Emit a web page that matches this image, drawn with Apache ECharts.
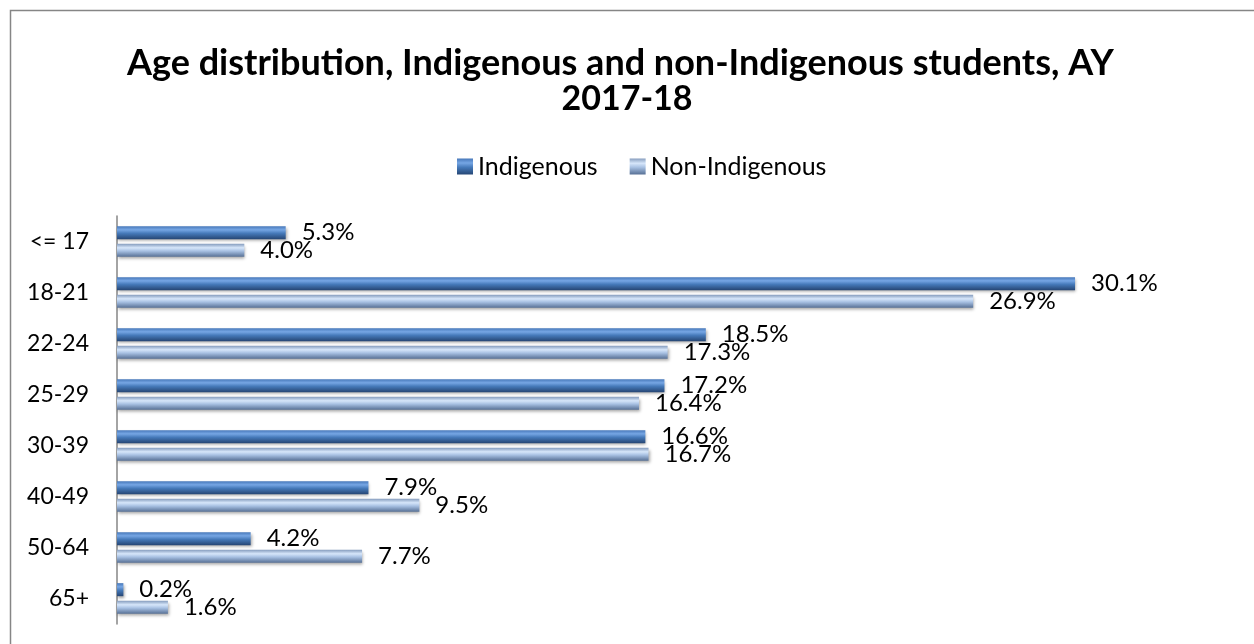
<!DOCTYPE html>
<html>
<head>
<meta charset="utf-8">
<script src="https://cdn.jsdelivr.net/npm/echarts@6/dist/echarts.min.js"></script>
<style>
html,body{margin:0;padding:0;background:#fff;}
#chart{width:1254px;height:644px;}
</style>
</head>
<body>
<div id="chart"></div>
<script>
const categories = ['<= 17', '18-21', '22-24', '25-29', '30-39', '40-49', '50-64', '65+'];
const indigenous = [5.3, 30.1, 18.5, 17.2, 16.6, 7.9, 4.2, 0.2];
const nonIndigenous = [4.0, 26.9, 17.3, 16.4, 16.7, 9.5, 7.7, 1.6];
const seriesNames = ['Indigenous', 'Non-Indigenous'];
const titleLines = ['Age distribution, Indigenous and non-Indigenous students, AY', '2017-18'];

const FONT = 'Lato, "Open Sans", sans-serif';
const chart = echarts.init(document.getElementById('chart'));

const gradInd = new echarts.graphic.LinearGradient(0, 0, 0, 1, [
  {offset: 0, color: '#4677b9'},
  {offset: 0.28, color: '#76a6e4'},
  {offset: 0.55, color: '#467aba'},
  {offset: 1, color: '#264674'}
]);
const gradNon = new echarts.graphic.LinearGradient(0, 0, 0, 1, [
  {offset: 0, color: '#869dbe'},
  {offset: 0.3, color: '#d6e6fa'},
  {offset: 0.55, color: '#a8c1e3'},
  {offset: 1, color: '#566f94'}
]);

const labelCfg = {
  show: true,
  position: 'right',
  distance: 16,
  color: '#000',
  fontFamily: FONT,
  fontSize: 24,
  formatter: p => p.value.toFixed(1) + '%'
};

const titleStyle = {fontFamily: FONT, fontWeight: 'bold', fontSize: 36, color: '#000'};

chart.setOption({
  animation: false,
  backgroundColor: '#fff',
  title: [
    {text: titleLines[0], left: 122, top: 40, textStyle: titleStyle},
    {text: titleLines[1], left: 'center', top: 77, textStyle: Object.assign({}, titleStyle, {fontSize: 34})}
  ],
  legend: {
    data: seriesNames,
    top: 149,
    left: 452,
    icon: 'rect',
    itemWidth: 16,
    itemHeight: 16,
    itemGap: 32,
    textStyle: {fontFamily: FONT, fontSize: 25, color: '#000'}
  },
  graphic: [{
    type: 'rect',
    shape: {x: 10.5, y: 10.5, width: 1300, height: 700},
    style: {fill: 'none', stroke: '#868686', lineWidth: 1.5},
    silent: true
  }],
  grid: {left: 117, right: 23, top: 216, height: 408, containLabel: false},
  xAxis: {
    type: 'value',
    min: 0,
    max: 35,
    show: false,
    splitLine: {show: false}
  },
  yAxis: {
    type: 'category',
    data: categories,
    inverse: true,
    axisLine: {show: true, lineStyle: {color: '#868686', width: 1.5}},
    axisTick: {show: false},
    axisLabel: {margin: 28, color: '#000', fontFamily: FONT, fontSize: 23}
  },
  series: [
    {
      name: seriesNames[0],
      type: 'bar',
      data: indigenous,
      barWidth: 13,
      barGap: '36%',
      itemStyle: {color: gradInd, shadowColor: 'rgba(0,0,0,0.35)', shadowBlur: 3, shadowOffsetY: 2, shadowOffsetX: 1},
      label: labelCfg
    },
    {
      name: seriesNames[1],
      type: 'bar',
      data: nonIndigenous,
      barWidth: 13,
      itemStyle: {color: gradNon, shadowColor: 'rgba(0,0,0,0.35)', shadowBlur: 3, shadowOffsetY: 2, shadowOffsetX: 1},
      label: labelCfg
    }
  ]
});
</script>
</body>
</html>
